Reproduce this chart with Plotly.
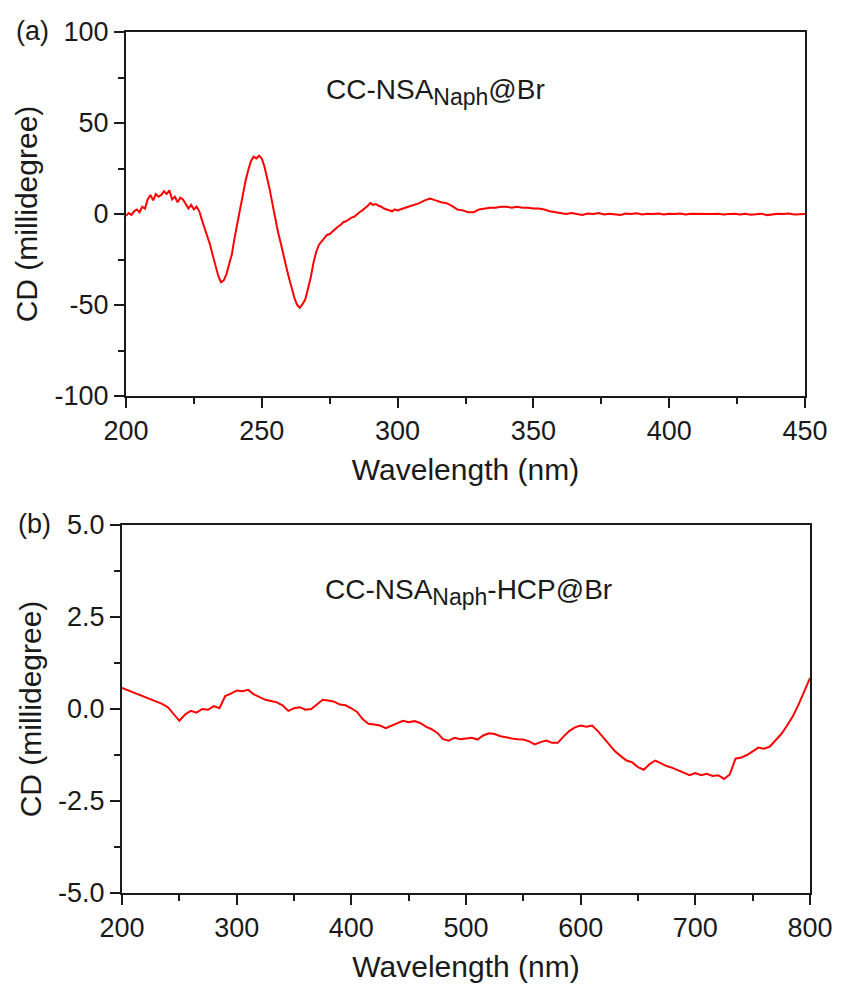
import plotly.graph_objects as go

# ---- panel (a) data: CC-NSA_Naph@Br ----
wl_a = list(range(200, 301)) + list(range(302, 451, 2))
cd_a = [
    -1.0, 0.5, -0.5, 1.5, 2.5, 1.0, 4.0, 3.0, 8.0, 10.5,
    7.5, 11.0, 9.5, 10.5, 12.5, 11.0, 13.0, 8.0, 9.5, 6.5,
    9.0, 8.0, 5.5, 3.0, 5.0, 2.5, 4.0, 1.5, -3.5, -8.0,
    -11.5, -17.0, -23.0, -29.0, -34.0, -37.5, -36.5, -33.0, -28.0, -22.0,
    -13.0, -5.0, 4.0, 11.0, 18.0, 24.0, 29.0, 31.5, 30.5, 32.0,
    30.5, 26.0, 20.0, 13.0, 5.0, -3.0, -10.0, -16.0, -23.0, -29.0,
    -35.0, -41.0, -46.0, -50.0, -51.5, -49.5, -47.0, -41.0, -35.0, -27.0,
    -21.0, -17.0, -15.0, -13.5, -11.5, -11.0, -9.5, -8.0, -7.0, -6.0,
    -4.5, -4.0, -3.0, -2.0, -1.5, 0.0, 1.0, 2.0, 3.0, 4.5,
    6.0, 5.0, 5.5, 4.5, 4.0, 3.0, 2.5, 2.0, 1.5, 2.5,
    2.0,
    3.0, 4.0, 5.0, 6.0, 7.5, 8.5, 7.5, 6.5, 6.0, 4.5,
    2.5, 2.0, 1.0, 1.0, 2.5, 3.0, 3.5, 3.5, 4.0, 4.0,
    3.5, 4.0, 3.5, 3.5, 3.0, 3.0, 2.5, 1.5, 1.0, 0.5,
    0.0, 0.5, 0.0, -0.5, 0.3, 0.0, 0.5, -0.3, 0.2, 0.0,
    -0.5, 0.3, 0.0, 0.4, -0.2, 0.2, 0.0, 0.3, -0.3, 0.2,
    0.0, 0.3, -0.2, 0.1, 0.0, 0.3, -0.2, 0.0, 0.2, -0.3,
    0.0, 0.2, -0.2, 0.1, -0.4, -0.2, 0.2, -0.6, -0.2, 0.2,
    0.0, 0.3, -0.2, 0.1, 0.0,
]

# ---- panel (b) data: CC-NSA_Naph-HCP@Br ----
wl_b = list(range(200, 801, 5))
cd_b = [
    0.57, 0.51, 0.45, 0.39, 0.32, 0.26, 0.20, 0.14, 0.05, -0.15,
    -0.32, -0.15, -0.05, -0.10, 0.00, -0.02, 0.08, 0.02, 0.35, 0.42,
    0.50, 0.48, 0.52, 0.40, 0.33, 0.25, 0.22, 0.18, 0.10, -0.05,
    0.02, 0.05, -0.02, 0.00, 0.12, 0.25, 0.23, 0.20, 0.12, 0.10,
    0.02, -0.08, -0.28, -0.40, -0.42, -0.45, -0.52, -0.45, -0.38, -0.32,
    -0.36, -0.33, -0.38, -0.48, -0.55, -0.65, -0.82, -0.86, -0.78, -0.82,
    -0.80, -0.78, -0.83, -0.72, -0.66, -0.68, -0.74, -0.78, -0.80, -0.82,
    -0.83, -0.88, -0.96, -0.90, -0.86, -0.92, -0.92, -0.75, -0.60, -0.50,
    -0.45, -0.48, -0.45, -0.60, -0.78, -0.95, -1.15, -1.28, -1.40, -1.45,
    -1.58, -1.65, -1.50, -1.40, -1.48, -1.55, -1.60, -1.66, -1.72, -1.80,
    -1.74, -1.80, -1.76, -1.82, -1.80, -1.90, -1.78, -1.35, -1.32, -1.25,
    -1.15, -1.05, -1.08, -1.02, -0.85, -0.68, -0.45, -0.20, 0.12, 0.48,
    0.84,
]

# ---- tick labels (hyphen-minus as in the reference) ----
xticks_a = [200, 250, 300, 350, 400, 450]
xtext_a = ["200", "250", "300", "350", "400", "450"]
yticks_a = [-100, -50, 0, 50, 100]
ytext_a = ["-100", "-50", "0", "50", "100"]
xticks_b = [200, 300, 400, 500, 600, 700, 800]
xtext_b = ["200", "300", "400", "500", "600", "700", "800"]
yticks_b = [-5.0, -2.5, 0.0, 2.5, 5.0]
ytext_b = ["-5.0", "-2.5", "0.0", "2.5", "5.0"]

SUB = '<sub><span style="font-size:23px">Naph</span></sub>'
label_a = "CC-NSA" + SUB + "@Br"
label_b = "CC-NSA" + SUB + "-HCP@Br"
x_title = "Wavelength (nm)"
y_title = "CD (millidegree)"

FONT = "Liberation Sans, Arial, sans-serif"
RED = "#ff0000"
INK = "#1a1a1a"

fig = go.Figure()
fig.add_trace(go.Scatter(x=wl_a, y=cd_a, mode="lines", line=dict(color=RED, width=2),
                         xaxis="x", yaxis="y", showlegend=False))
fig.add_trace(go.Scatter(x=wl_b, y=cd_b, mode="lines", line=dict(color=RED, width=2),
                         xaxis="x2", yaxis="y2", showlegend=False))

common = dict(showgrid=False, zeroline=False, showline=True, linecolor=INK, linewidth=2,
              mirror=True, ticks="outside", ticklen=10, tickwidth=2, tickcolor=INK,
              tickmode="array", tickfont=dict(family=FONT, size=27, color=INK))
minor = dict(ticklen=6, tickwidth=2, tickcolor=INK, ticks="outside")

fig.update_layout(
    width=845, height=991,
    margin=dict(l=122, r=27, t=32, b=98),
    plot_bgcolor="white", paper_bgcolor="white",
    font=dict(family=FONT, color=INK),
    xaxis=dict(domain=[0.00575, 0.9928], range=[200, 450], anchor="y",
               tickvals=xticks_a, ticktext=xtext_a,
               minor=dict(tickvals=[225, 275, 325, 375, 425], **minor),
               title=dict(text=x_title, font=dict(family=FONT, size=30), standoff=14), **common),
    yaxis=dict(domain=[0.5772, 1.0], range=[-100, 100], anchor="x",
               tickvals=yticks_a, ticktext=ytext_a,
               minor=dict(tickvals=[-75, -25, 25, 75], **minor),
               title=dict(text=y_title, font=dict(family=FONT, size=30), standoff=8), **common),
    xaxis2=dict(domain=[0.0, 1.0], range=[200, 800], anchor="y2",
                tickvals=xticks_b, ticktext=xtext_b,
                minor=dict(tickvals=[250, 350, 450, 550, 650, 750], **minor),
                title=dict(text=x_title, font=dict(family=FONT, size=30), standoff=14), **common),
    yaxis2=dict(domain=[0.0, 0.4274], range=[-5, 5], anchor="x2",
                tickvals=yticks_b, ticktext=ytext_b,
                minor=dict(tickvals=[-3.75, -1.25, 1.25, 3.75], **minor),
                title=dict(text=y_title, font=dict(family=FONT, size=30), standoff=8), **common),
)

fig.add_annotation(text=label_a, x=272.8, y=67, xref="x", yref="y", xanchor="left", yanchor="middle",
                   showarrow=False, font=dict(family=FONT, size=28, color=INK))
fig.add_annotation(text=label_b, x=375, y=3.19, xref="x2", yref="y2", xanchor="left", yanchor="middle",
                   showarrow=False, font=dict(family=FONT, size=28, color=INK))
fig.add_annotation(text="(a)", x=(13 - 122) / 696, y=(893 - 31) / 861, xref="paper", yref="paper",
                   xanchor="left", yanchor="middle", showarrow=False,
                   font=dict(family=FONT, size=27, color=INK))
fig.add_annotation(text="(b)", x=(15 - 122) / 696, y=(893 - 524) / 861, xref="paper", yref="paper",
                   xanchor="left", yanchor="middle", showarrow=False,
                   font=dict(family=FONT, size=27, color=INK))

fig.write_html("out.html")
